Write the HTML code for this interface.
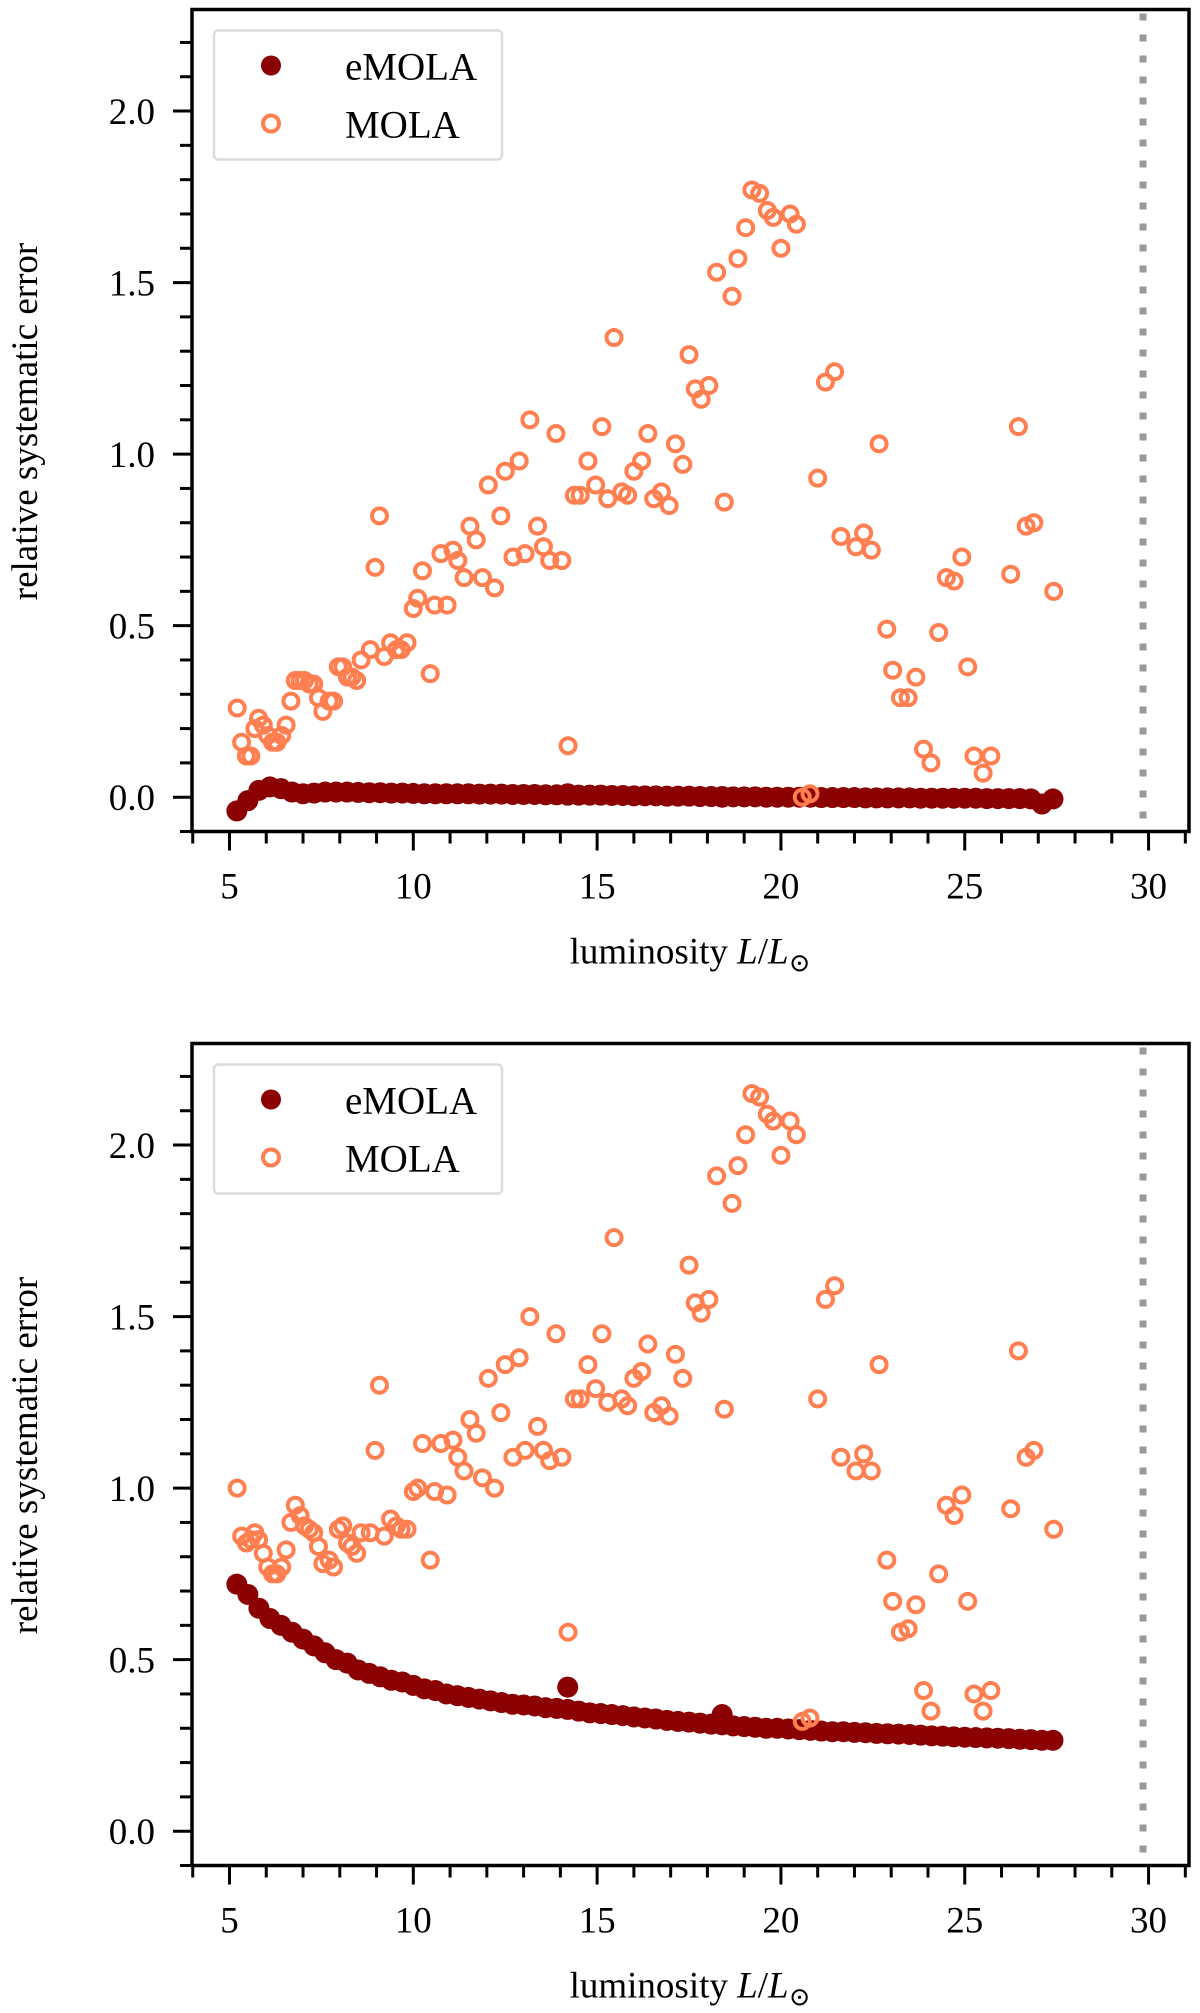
<!DOCTYPE html>
<html><head><meta charset="utf-8">
<style>
html,body{margin:0;padding:0;background:#fff;}
svg{display:block;}
svg text{font-family:"Liberation Serif","DejaVu Serif",serif;}
</style></head>
<body>
<svg id="fig" width="1200" height="2013" viewBox="0 0 1200 2013" xmlns="http://www.w3.org/2000/svg" font-family="Liberation Serif, DejaVu Serif, serif"></svg>
<script>
// ---- data ----
const molaX = [5.21,5.33,5.46,5.58,5.69,5.79,5.92,6.04,6.17,6.29,6.42,6.54,6.67,6.79,6.92,7.04,7.17,7.29,7.42,7.54,7.71,7.83,7.96,8.08,8.21,8.33,8.46,8.58,8.83,8.96,9.08,9.21,9.38,9.54,9.67,9.83,10.0,10.12,10.25,10.46,10.58,10.92,10.75,11.08,11.21,11.38,11.54,11.71,11.88,12.04,12.21,12.38,12.5,12.71,12.88,13.04,13.17,13.38,13.54,13.71,13.88,14.04,14.21,14.38,14.54,14.75,14.96,15.13,15.29,15.46,15.67,15.83,16.0,16.21,16.38,16.54,16.75,16.96,17.13,17.33,17.5,17.67,17.83,18.04,18.25,18.46,18.67,18.83,19.04,19.21,19.42,19.63,19.79,20.0,20.25,20.42,20.58,20.79,21.0,21.21,21.46,21.63,22.04,22.25,22.46,22.67,22.88,23.04,23.25,23.46,23.67,23.88,24.08,24.29,24.5,24.71,24.92,25.08,25.25,25.5,25.71,26.25,26.46,26.67,26.88,27.42];
const molaTop = [.26,.16,.12,.12,.20,.23,.21,.18,.16,.16,.18,.21,.28,.34,.34,.34,.33,.33,.29,.25,.28,.28,.38,.38,.35,.35,.34,.40,.43,.67,.82,.41,.45,.43,.43,.45,.55,.58,.66,.36,.56,.56,.71,.72,.69,.64,.79,.75,.64,.91,.61,.82,.95,.70,.98,.71,1.10,.79,.73,.69,1.06,.69,.15,.88,.88,.98,.91,1.08,.87,1.34,.89,.88,.95,.98,1.06,.87,.89,.85,1.03,.97,1.29,1.19,1.16,1.20,1.53,.86,1.46,1.57,1.66,1.77,1.76,1.71,1.69,1.60,1.70,1.67,.00,.01,.93,1.21,1.24,.76,.73,.77,.72,1.03,.49,.37,.29,.29,.35,.14,.10,.48,.64,.63,.70,.38,.12,.07,.12,.65,1.08,.79,.80,.60];
const molaBottom = [1.00,.86,.84,.85,.87,.85,.81,.77,.75,.75,.77,.82,.90,.95,.92,.89,.88,.87,.83,.78,.79,.77,.88,.89,.84,.83,.81,.87,.87,1.11,1.30,.86,.91,.89,.88,.88,.99,1.00,1.13,.79,.99,.98,1.13,1.14,1.09,1.05,1.20,1.16,1.03,1.32,1.00,1.22,1.36,1.09,1.38,1.11,1.50,1.18,1.11,1.08,1.45,1.09,.58,1.26,1.26,1.36,1.29,1.45,1.25,1.73,1.26,1.24,1.32,1.34,1.42,1.22,1.24,1.21,1.39,1.32,1.65,1.54,1.51,1.55,1.91,1.23,1.83,1.94,2.03,2.15,2.14,2.09,2.07,1.97,2.07,2.03,.32,.33,1.26,1.55,1.59,1.09,1.05,1.10,1.05,1.36,.79,.67,.58,.59,.66,.41,.35,.75,.95,.92,.98,.67,.40,.35,.41,.94,1.40,1.09,1.11,.88];
const emolaX = [5.2,5.5,5.8,6.1,6.4,6.7,7.0,7.3,7.6,7.9,8.2,8.5,8.8,9.1,9.4,9.7,10.0,10.3,10.6,10.9,11.2,11.5,11.8,12.1,12.4,12.7,13.0,13.3,13.6,13.9,14.2,14.5,14.8,15.1,15.4,15.7,16.0,16.3,16.6,16.9,17.2,17.5,17.8,18.1,18.4,18.7,19.0,19.3,19.6,19.9,20.2,20.5,20.8,21.1,21.4,21.7,22.0,22.3,22.6,22.9,23.2,23.5,23.8,24.1,24.4,24.7,25.0,25.3,25.6,25.9,26.2,26.5,26.8,27.1,27.4,14.2,18.4];
const emolaTop = [-.04,-.01,.02,.03,.025,.015,.01,.012,.015,.015,.015,.014,.013,.013,.012,.012,.011,.01,.01,.01,.01,.01,.009,.009,.009,.008,.008,.008,.007,.007,.006,.006,.006,.006,.005,.005,.004,.004,.004,.003,.003,.003,.002,.002,.002,.001,.001,.001,.0,.0,.0,.0,.0,-.001,-.001,-.001,-.001,-.002,-.002,-.002,-.002,-.002,-.003,-.003,-.003,-.003,-.003,-.003,-.004,-.004,-.004,-.004,-.005,-.02,-.005,.01,.0];
const emolaBottom = [.72,.69,.65,.62,.60,.58,.56,.54,.52,.50,.49,.47,.46,.45,.44,.435,.425,.415,.41,.40,.395,.39,.385,.38,.375,.37,.368,.365,.36,.358,.355,.35,.345,.343,.34,.337,.333,.33,.327,.323,.32,.318,.315,.312,.31,.307,.305,.303,.30,.30,.298,.296,.294,.292,.29,.29,.288,.287,.285,.284,.283,.282,.28,.278,.277,.275,.274,.273,.272,.271,.27,.268,.267,.265,.265,.42,.34];
const xTicks = [5,10,15,20,25,30];
const yTicks = [0.0,0.5,1.0,1.5,2.0];
const xMin = 3.98, xMax = 31.1, yMin = -0.1, yMax = 2.296;
const vline = 29.85;

const NS = "http://www.w3.org/2000/svg";
const FONT = '"Liberation Serif", "DejaVu Serif", serif';
const svg = document.getElementById('fig');
function mk(tag, attrs, parent){
  const e = document.createElementNS(NS, tag);
  for (const k in attrs) e.setAttribute(k, attrs[k]);
  if (tag === 'text') e.setAttribute('font-family', FONT);
  (parent||svg).appendChild(e);
  return e;
}

function panel(top, molaY, emolaY, idx){
  const L = 192, R = 1189, T = top, B = top + 822;
  const sx = v => L + (v - xMin) / (xMax - xMin) * (R - L);
  const sy = v => B - (v - yMin) / (yMax - yMin) * (B - T);
  const g = mk('g', {});
  
  

  const vl = mk('line', {x1:sx(vline), x2:sx(vline), y1:T+4, y2:B-2, stroke:'#999', 'stroke-width':7, 'stroke-dasharray':'7 14'}, g);
  
  

  const eg = mk('g', {fill:'#8b0000'}, g);
  
  
  for (let i = 0; i < emolaX.length; i++){
    const c = mk('circle', {cx:sx(emolaX[i]), cy:sy(emolaY[i]), r:10.5}, eg);
    
    
  }
  const mg = mk('g', {fill:'none', stroke:'#ff7f50', 'stroke-width':4}, g);
  
  
  for (let i = 0; i < molaX.length; i++){
    const c = mk('circle', {cx:sx(molaX[i]), cy:sy(molaY[i]), r:7.5}, mg);
    
    
  }

  const box = mk('rect', {x:L, y:T, width:R-L, height:B-T, fill:'none', stroke:'#000', 'stroke-width':3.5}, g);
  
  

  for (let v = 4; v <= 31; v++){
    const maj = v % 5 === 0;
    mk('line', {x1:sx(v), x2:sx(v), y1:B, y2:B + (maj ? 19 : 12), stroke:'#000', 'stroke-width':3}, g);
  }
  xTicks.forEach(v => {
    const t = mk('text', {x:sx(v), y:B+67, 'text-anchor':'middle', 'font-size':37}, g);
    t.textContent = String(v);
    
    
  });
  for (let k = -1; k <= 22; k++){
    const v = k / 10;
    const maj = k % 5 === 0;
    mk('line', {x1:L - (maj ? 19 : 12), x2:L, y1:sy(v), y2:sy(v), stroke:'#000', 'stroke-width':3}, g);
  }
  yTicks.forEach(v => {
    const t = mk('text', {x:L-37, y:sy(v)+13, 'text-anchor':'end', 'font-size':37}, g);
    t.textContent = v.toFixed(1);
    
    
  });

  const xt = mk('text', {x:690, y:B+132, 'text-anchor':'middle', 'font-size':37}, g);
  
  
  xt.innerHTML = 'luminosity <tspan font-style="italic">L</tspan>/<tspan font-style="italic">L</tspan><tspan font-size="26" dy="8">⊙</tspan>';
  const cy = T + 412;
  const yt = mk('text', {x:37, y:cy, 'text-anchor':'middle', 'font-size':37, transform:'rotate(-90 37 '+cy+')'}, g);
  
  
  yt.textContent = 'relative systematic error';

  const lg = mk('g', {}, g);
  
  
  mk('rect', {x:214, y:T+21, width:288, height:129, rx:4, fill:'#fff', 'fill-opacity':0.85, stroke:'#dcdcdc', 'stroke-width':2.5}, lg);
  const e1 = mk('g', {}, lg);
  
  
  mk('circle', {cx:271, cy:T+56, r:10, fill:'#8b0000'}, e1);
  const t1 = mk('text', {x:345, y:T+70, 'font-size':39}, e1); t1.textContent = 'eMOLA';
  const e2 = mk('g', {}, lg);
  
  
  mk('circle', {cx:271, cy:T+114, r:8, fill:'none', stroke:'#ff7f50', 'stroke-width':4}, e2);
  const t2 = mk('text', {x:345, y:T+128, 'font-size':39}, e2); t2.textContent = 'MOLA';
}

panel(9.5, molaTop, emolaTop, 'top');
panel(1043.5, molaBottom, emolaBottom, 'bottom');
</script>
</body></html>
